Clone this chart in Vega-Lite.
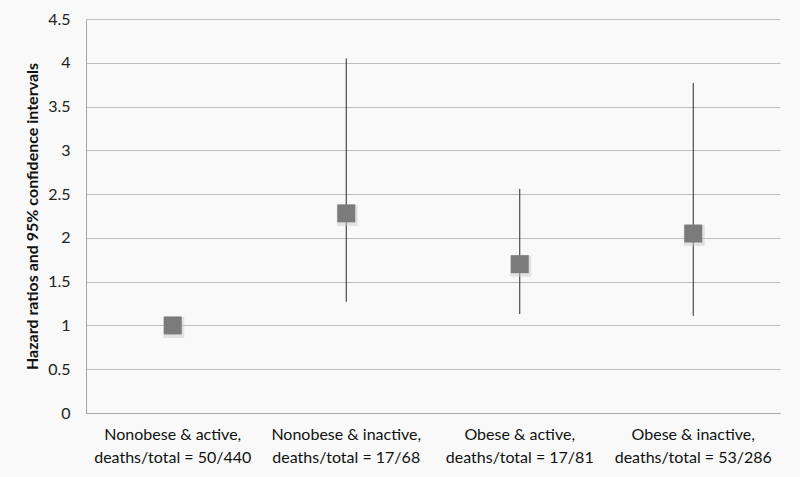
{
  "$schema": "https://vega.github.io/schema/vega-lite/v6.json",
  "width": 694,
  "height": 394,
  "autosize": {"type": "none"},
  "padding": {"left": 86, "top": 19, "right": 20, "bottom": 64},
  "background": "#f8f9f8",
  "config": {
    "view": {"stroke": null},
    "font": "Lato",
    "axis": {"labelFont": "Lato", "titleFont": "Lato"}
  },
  "data": {
    "values": [
      {"group": "Nonobese & active,|deaths/total = 50/440", "hr": 1.0},
      {"group": "Nonobese & inactive,|deaths/total = 17/68", "hr": 2.28, "lo": 1.27, "hi": 4.05},
      {"group": "Obese & active,|deaths/total = 17/81", "hr": 1.70, "lo": 1.13, "hi": 2.56},
      {"group": "Obese & inactive,|deaths/total = 53/286", "hr": 2.05, "lo": 1.11, "hi": 3.77}
    ]
  },
  "encoding": {
    "x": {
      "field": "group",
      "type": "nominal",
      "sort": null,
      "scale": {
        "domain": [
          "Nonobese & active,|deaths/total = 50/440",
          "Nonobese & inactive,|deaths/total = 17/68",
          "Obese & active,|deaths/total = 17/81",
          "Obese & inactive,|deaths/total = 53/286"
        ],
        "paddingInner": 0,
        "paddingOuter": 0
      },
      "axis": {
        "title": null,
        "labelAngle": 0,
        "labelExpr": "split(datum.label, '|')",
        "labelFontSize": 16,
        "labelLineHeight": 23,
        "labelColor": "#111111",
        "labelPadding": 13,
        "labelBaseline": "top",
        "ticks": false,
        "domainColor": "#a8a8a8",
        "domainWidth": 1,
        "grid": false
      }
    }
  },
  "layer": [
    {
      "transform": [{"filter": "isValid(datum.lo)"}],
      "mark": {"type": "rule", "color": "#2a2a2a", "strokeWidth": 1},
      "encoding": {
        "y": {"field": "lo", "type": "quantitative"},
        "y2": {"field": "hi"}
      }
    },
    {
      "mark": {"type": "point", "shape": "square", "filled": true, "size": 440, "color": "#cccccc", "opacity": 0.5, "xOffset": 1, "yOffset": 2},
      "encoding": {
        "y": {"field": "hr", "type": "quantitative"}
      }
    },
    {
      "mark": {"type": "point", "shape": "square", "filled": true, "size": 324, "color": "#7b7b7b", "opacity": 1},
      "encoding": {
        "y": {
          "field": "hr",
          "type": "quantitative",
          "scale": {"domain": [0, 4.5], "nice": false, "zero": true},
          "axis": {
            "title": "Hazard ratios and 95% confidence intervals",
            "titleFontSize": 16,
            "titleFontWeight": "bold",
            "titleColor": "#111111",
            "titleX": -46,
            "values": [0, 0.5, 1, 1.5, 2, 2.5, 3, 3.5, 4, 4.5],
            "format": "~g",
            "labelFontSize": 16,
            "labelColor": "#222222",
            "labelPadding": 16,
            "ticks": false,
            "domainColor": "#a8a8a8",
            "gridColor": "#bdbdbd",
            "gridWidth": 1
          }
        }
      }
    }
  ]
}
